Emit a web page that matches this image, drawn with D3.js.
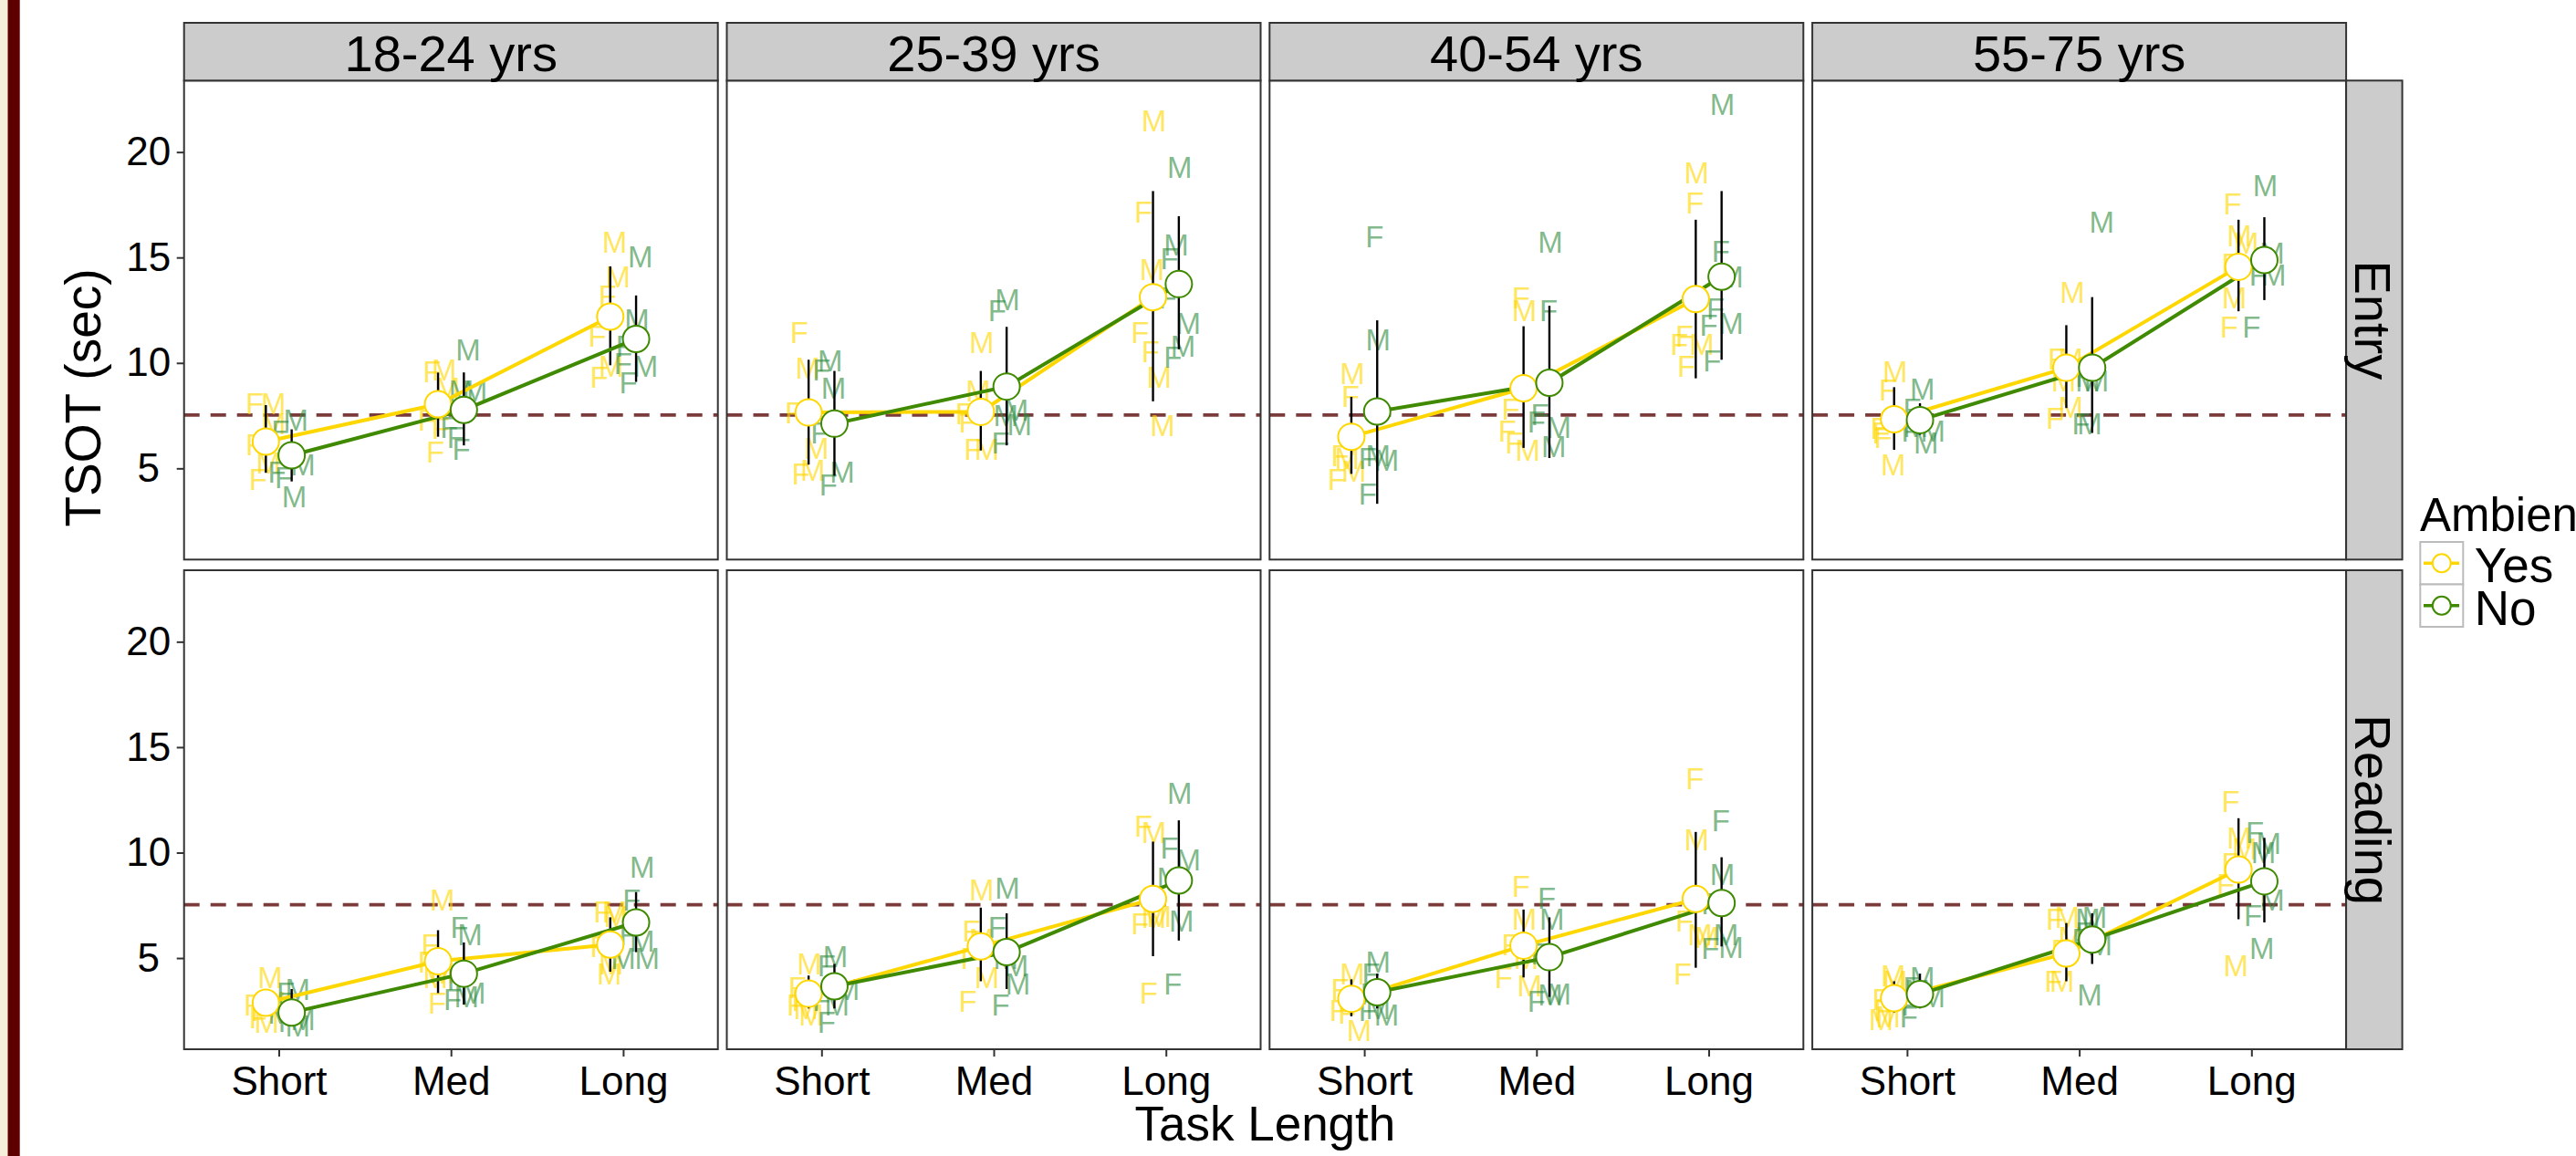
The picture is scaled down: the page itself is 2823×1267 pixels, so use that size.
<!DOCTYPE html>
<html>
<head>
<meta charset="utf-8">
<title>TSOT by task length, age and ambient</title>
<script src="https://d3js.org/d3.v7.min.js"></script>
<style>
body { margin: 0; background: #fff; font-family: Arial, "Liberation Sans", sans-serif; }
svg { display: block; }
</style>
</head>
<body>
<div id="chart"></div>
<script>
var ages = ["18-24 yrs", "25-39 yrs", "40-54 yrs", "55-75 yrs"];
var tasks = ["Entry", "Reading"];
var lengths = ["Short", "Med", "Long"];
var ambient = ["Yes", "No"];
var yTicks = [5, 10, 15, 20];
var refLine = 7.53;

// group means, one row per age group: [Short, Med, Long]
var entryYesMean = [[6.27, 8.04, 12.2], [7.65, 7.68, 13.12], [6.5, 8.8, 13.03], [7.33, 9.77, 14.56]];
var entryYesLo   = [[4.79, 6.5, 9.89], [5.18, 5.85, 8.18], [4.74, 5.97, 9.27], [5.88, 7.86, 12.45]];
var entryYesHi   = [[8.0, 9.54, 14.58], [10.15, 9.62, 18.15], [8.39, 11.74, 16.79], [8.85, 11.79, 16.79]];
var entryNoMean  = [[5.62, 7.77, 11.14], [7.12, 8.88, 13.74], [7.7, 9.06, 14.09], [7.29, 9.77, 14.88]];
var entryNoLo    = [[4.38, 6.09, 9.1], [4.65, 6.09, 10.65], [3.32, 5.49, 10.15], [6.59, 6.68, 12.98]];
var entryNoHi    = [[6.85, 9.55, 13.2], [9.62, 11.71, 16.96], [12.02, 12.71, 18.15], [8.09, 13.12, 16.91]];

var readingYesMean = [[2.88, 4.85, 5.64], [3.31, 5.55, 7.8], [3.07, 5.59, 7.8], [3.1, 5.22, 9.2]];
var readingYesLo   = [[2.33, 3.34, 4.35], [2.61, 3.9, 5.09], [2.24, 4.08, 4.54], [2.42, 3.9, 6.84]];
var readingYesHi   = [[3.53, 6.32, 6.93], [4.17, 7.39, 10.52], [3.99, 7.3, 10.98], [3.9, 6.66, 11.63]];
var readingNoMean  = [[2.42, 4.26, 6.69], [3.66, 5.28, 8.68], [3.38, 5.04, 7.61], [3.29, 5.88, 8.64]];
var readingNoLo    = [[1.87, 2.79, 5.28], [2.61, 3.53, 5.83], [2.61, 3.16, 5.55], [2.61, 4.72, 6.69]];
var readingNoHi    = [[3.53, 5.74, 8.13], [4.72, 7.12, 11.53], [4.26, 6.93, 9.78], [4.26, 7.12, 10.7]];

// individual participants: [sex, jitter (x units), TSOT], grouped [Short, Med, Long]
var entryLetters = [
  { Yes: [
      [["F",-0.14,8.09],["M",-0.03,8.09],["M",-0.03,7.12],["F",-0.14,6.15],["M",-0.06,5.27],["F",-0.12,4.47]],
      [["F",-0.11,9.6],["M",-0.04,9.7],["M",-0.02,8.8],["F",-0.14,7.3],["F",-0.06,6.9],["F",-0.09,5.8]],
      [["M",-0.05,15.76],["M",-0.03,14.09],["F",-0.09,13.2],["F",-0.15,11.27],["M",-0.07,9.85],["F",-0.14,9.32]]],
    No: [
      [["M",0.10,7.3],["F",0.01,6.77],["M",0.14,5.18],["F",0.03,4.56],["M",0.09,3.68],["F",-0.01,4.82]],
      [["M",0.10,10.65],["M",0.06,8.7],["M",0.14,8.7],["F",-0.01,6.94],["F",0.03,6.5],["F",0.06,5.9]],
      [["M",0.10,15.06],["M",0.08,12.06],["F",0.01,10.82],["M",0.13,9.85],["F",0.03,9.06],["F",0.0,10.0]]] },
  { Yes: [
      [["F",-0.13,11.44],["M",-0.08,9.77],["F",-0.16,7.65],["M",-0.03,5.97],["F",-0.12,4.74],["M",-0.05,4.91]],
      [["M",-0.07,11.0],["M",-0.09,8.7],["F",-0.15,7.2],["F",-0.12,5.9],["M",-0.04,5.9],["F",-0.17,7.6]],
      [["M",-0.07,21.5],["F",-0.13,17.18],["M",-0.08,14.44],["F",-0.15,11.44],["F",-0.09,10.56],["M",-0.04,9.32],["M",-0.02,7.03]]],
    No: [
      [["M",0.05,10.1],["F",0.0,9.7],["M",0.07,8.8],["F",-0.01,6.7],["M",0.12,4.82],["F",0.04,4.21]],
      [["M",0.08,13.0],["F",0.02,12.5],["M",0.13,7.8],["M",0.15,7.1],["F",0.04,6.2],["M",0.07,7.5]],
      [["M",0.08,19.29],["M",0.06,15.59],["F",0.02,14.97],["F",0.01,13.1],["M",0.13,11.88],["M",0.10,10.82],["F",0.04,10.3]]] },
  { Yes: [
      [["M",-0.07,9.5],["F",-0.08,8.44],["F",-0.14,5.6],["M",-0.06,4.9],["F",-0.16,4.47],["M",-0.10,5.5]],
      [["F",-0.09,13.12],["M",-0.07,12.5],["F",-0.15,7.82],["F",-0.17,6.77],["F",-0.13,6.24],["M",-0.05,5.88]],
      [["M",-0.07,19.03],["F",-0.08,17.62],["F",-0.14,11.27],["F",-0.17,10.91],["M",-0.04,10.91],["F",-0.13,9.85]]],
    No: [
      [["F",0.06,16.0],["M",0.08,11.1],["F",0.02,5.5],["M",0.13,5.4],["M",0.08,5.6],["F",0.02,3.8]],
      [["M",0.08,15.76],["F",0.07,12.5],["F",0.02,7.56],["M",0.13,6.94],["M",0.10,6.06],["F",0.0,7.2]],
      [["M",0.08,22.29],["F",0.07,15.32],["M",0.13,14.09],["F",0.04,12.59],["F",0.0,11.8],["M",0.13,11.88],["F",0.02,10.12]]] },
  { Yes: [
      [["M",-0.07,9.59],["F",-0.11,8.71],["F",-0.15,6.68],["M",-0.08,5.18],["F",-0.16,6.9],["F",-0.14,6.5]],
      [["M",-0.04,13.38],["F",-0.13,10.2],["M",-0.05,10.2],["M",-0.09,9.15],["M",-0.05,7.91],["F",-0.14,7.38]],
      [["F",-0.11,17.57],["M",-0.07,16.03],["M",-0.03,15.68],["F",-0.12,14.7],["M",-0.10,13.12],["F",-0.13,11.71]]],
    No: [
      [["M",0.09,8.79],["F",0.03,7.82],["F",0.02,6.77],["M",0.15,6.77],["M",0.11,6.24],["M",0.05,7.0]],
      [["M",0.13,16.68],["M",0.10,9.15],["M",0.05,9.15],["F",0.01,7.12],["M",0.06,7.12],["F",0.03,9.4]],
      [["M",0.08,18.41],["M",0.12,15.24],["M",0.13,14.2],["F",0.04,14.18],["F",0.0,11.71],["F",0.07,15.0]]] }
];

var readingLetters = [
  { Yes: [
      [["M",-0.05,4.08],["F",-0.15,2.79],["F",-0.11,2.51],["M",-0.07,1.96],["M",-0.03,2.9],["F",-0.12,2.2]],
      [["M",-0.05,7.76],["F",-0.12,5.64],["F",-0.14,4.82],["M",-0.09,4.08],["F",-0.08,2.88],["M",-0.05,4.3]],
      [["M",-0.05,7.21],["F",-0.12,7.21],["M",-0.07,4.72],["M",-0.08,4.26],["F",-0.14,5.55],["M",-0.04,7.0]]],
    No: [
      [["M",0.11,3.53],["F",0.04,3.34],["M",0.01,2.42],["M",0.11,1.78],["M",0.14,2.1],["F",0.05,2.0]],
      [["F",0.05,6.47],["M",0.11,6.1],["M",0.13,3.34],["F",0.01,3.07],["M",0.09,3.2],["F",0.03,4.0]],
      [["M",0.11,9.32],["F",0.05,7.76],["F",0.03,6.1],["M",0.11,5.83],["M",0.14,5.0],["M",0.0,5.0]]] },
  { Yes: [
      [["M",-0.07,4.72],["F",-0.14,3.62],["F",-0.15,2.79],["M",-0.06,2.33],["M",-0.09,2.6],["F",-0.12,3.0]],
      [["M",-0.07,8.22],["F",-0.13,6.29],["F",-0.15,2.98],["M",-0.04,4.08],["M",-0.07,5.9],["F",-0.14,5.0]],
      [["F",-0.13,11.26],["M",-0.07,10.98],["M",-0.07,6.93],["F",-0.15,6.66],["F",-0.10,3.34],["M",-0.04,7.0]]],
    No: [
      [["M",0.08,5.09],["F",0.03,4.63],["M",0.15,3.53],["M",0.09,2.79],["F",0.03,1.96],["F",0.0,3.0]],
      [["M",0.08,8.31],["F",0.02,6.47],["M",0.13,4.63],["M",0.14,3.8],["F",0.04,2.79],["M",0.07,5.0]],
      [["M",0.08,12.82],["F",0.02,10.24],["M",0.13,9.69],["M",0.09,6.75],["F",0.04,3.8],["M",0.02,8.8]]] },
  { Yes: [
      [["M",-0.07,4.26],["F",-0.14,3.53],["F",-0.15,2.51],["M",-0.03,1.6],["F",-0.10,2.4],["M",-0.08,3.0]],
      [["F",-0.09,8.4],["M",-0.07,6.84],["F",-0.15,5.64],["F",-0.19,4.08],["M",-0.04,3.71],["M",-0.06,5.0]],
      [["F",-0.08,13.5],["M",-0.07,10.61],["F",-0.14,6.75],["M",-0.05,6.1],["F",-0.15,4.26],["M",-0.01,6.0]]],
    No: [
      [["M",0.08,4.82],["F",0.04,4.26],["F",0.02,2.51],["M",0.13,2.33],["M",0.08,2.6],["F",0.03,3.3]],
      [["F",0.06,7.85],["M",0.09,6.84],["M",0.08,3.25],["F",0.0,2.97],["M",0.13,3.3],["F",0.02,5.2]],
      [["F",0.07,11.53],["M",0.08,8.96],["F",0.01,7.58],["M",0.10,6.1],["F",0.01,5.46],["M",0.13,5.5]]] },
  { Yes: [
      [["M",-0.08,4.17],["F",-0.15,3.07],["M",-0.11,2.24],["F",-0.14,2.51],["M",-0.15,2.1],["M",-0.07,3.9]],
      [["F",-0.14,6.84],["M",-0.07,6.93],["F",-0.15,3.9],["M",-0.10,3.9],["M",-0.05,6.0],["F",-0.11,5.4]],
      [["F",-0.12,12.45],["M",-0.07,10.7],["F",-0.12,9.5],["F",-0.15,8.5],["M",-0.09,4.63],["M",-0.04,10.2]]],
    No: [
      [["M",0.09,4.08],["F",0.03,3.62],["M",0.15,3.16],["F",0.01,2.24],["M",0.06,3.5],["F",0.02,2.8]],
      [["M",0.09,6.93],["M",0.05,6.84],["F",0.01,5.92],["M",0.12,5.64],["M",0.06,3.25],["F",0.03,6.2]],
      [["F",0.02,10.98],["M",0.10,10.43],["M",0.12,7.76],["F",0.01,7.02],["M",0.06,5.46],["M",0.07,10.0]]] }
];

// tables built from the arrays above
var summary = {
  Entry:   { Yes: [entryYesMean, entryYesLo, entryYesHi], No: [entryNoMean, entryNoLo, entryNoHi] },
  Reading: { Yes: [readingYesMean, readingYesLo, readingYesHi], No: [readingNoMean, readingNoLo, readingNoHi] }
};
var letters = { Entry: entryLetters, Reading: readingLetters };

// layout
var W = 2823, H = 1267;
var left = 201.7, panelW = 585, gapX = 9.8;
var stripTop = 25, stripH = 63.3;
var rowTop = [88.3, 625], panelH = 525;
var rStripW = 61.5;

var x = d3.scalePoint().domain(lengths).range([0, panelW]).padding(0.55);
var y = d3.scaleLinear().domain([0.675, 23.39]).range([panelH, 0]);
var colour = d3.scaleOrdinal().domain(ambient).range(["#FFD700", "#3F8A00"]);
var letterFill = d3.scaleOrdinal().domain(ambient).range(["#FFD700", "#2E8B3E"]);
var letterAlpha = d3.scaleOrdinal().domain(ambient).range([0.64, 0.6]);
var dodge = { Yes: -0.075, No: 0.075 };

function xpos(li, dx) { return x(lengths[li]) + dx * x.step(); }

var svg = d3.select("#chart").append("svg")
  .attr("width", W).attr("height", H);

svg.append("rect").attr("width", W).attr("height", H).attr("fill", "#fff");
// slide edge decoration
svg.append("rect").attr("x", 0).attr("y", 0).attr("width", 8.5).attr("height", H).attr("fill", "#F6EFD9");
svg.append("rect").attr("x", 8.5).attr("y", 0).attr("width", 13.2).attr("height", H).attr("fill", "#5E0000");

tasks.forEach(function(task, ti) {
  ages.forEach(function(age, ai) {
    var px = left + ai * (panelW + gapX), py = rowTop[ti];
    var g = svg.append("g").attr("transform", "translate(" + px + "," + py + ")");

    g.append("rect").attr("width", panelW).attr("height", panelH).attr("fill", "#fff");

    g.append("line")
      .attr("x1", 0).attr("x2", panelW)
      .attr("y1", y(refLine)).attr("y2", y(refLine))
      .attr("stroke", "#7C3B3B").attr("stroke-width", 3.8)
      .attr("stroke-dasharray", "17,12");

    // participant letters
    ambient.forEach(function(amb) {
      letters[task][ai][amb].forEach(function(group, li) {
        g.selectAll(null).data(group).enter().append("text")
          .attr("x", function(d) { return xpos(li, d[1]); })
          .attr("y", function(d) { return y(d[2]); })
          .attr("dy", "0.36em")
          .attr("text-anchor", "middle")
          .attr("font-size", 33)
          .attr("fill", letterFill(amb))
          .attr("fill-opacity", letterAlpha(amb))
          .text(function(d) { return d[0]; });
      });
    });

    ambient.forEach(function(amb) {
      var s = summary[task][amb];
      var pts = lengths.map(function(l, li) {
        return { li: li, m: s[0][ai][li], lo: s[1][ai][li], hi: s[2][ai][li] };
      });
      var line = d3.line()
        .x(function(d) { return xpos(d.li, dodge[amb]); })
        .y(function(d) { return y(d.m); });
      g.append("path").datum(pts)
        .attr("d", line)
        .attr("fill", "none")
        .attr("stroke", colour(amb))
        .attr("stroke-width", 4);
      g.selectAll(null).data(pts).enter().append("line")
        .attr("x1", function(d) { return xpos(d.li, dodge[amb]); })
        .attr("x2", function(d) { return xpos(d.li, dodge[amb]); })
        .attr("y1", function(d) { return y(d.lo); })
        .attr("y2", function(d) { return y(d.hi); })
        .attr("stroke", "#000").attr("stroke-width", 2.4);
    });
    ambient.forEach(function(amb) {
      var s = summary[task][amb];
      g.selectAll(null).data(s[0][ai]).enter().append("circle")
        .attr("cx", function(d, li) { return xpos(li, dodge[amb]); })
        .attr("cy", function(d) { return y(d); })
        .attr("r", 14.5)
        .attr("fill", "#fff")
        .attr("stroke", colour(amb))
        .attr("stroke-width", 2);
    });

    g.append("rect").attr("width", panelW).attr("height", panelH)
      .attr("fill", "none").attr("stroke", "#333").attr("stroke-width", 2);

    if (ai == 0) {
      var ya = g.append("g").call(d3.axisLeft(y).tickValues(yTicks).tickSize(8));
      ya.select(".domain").remove();
      ya.selectAll("line").attr("stroke", "#333").attr("stroke-width", 2);
      ya.selectAll("text").attr("x", -39).attr("text-anchor", "middle")
        .attr("font-size", 44).attr("font-family", "Arial, 'Liberation Sans', sans-serif").attr("fill", "#000");
    }
    if (ti == 1) {
      var xa = g.append("g").attr("transform", "translate(0," + panelH + ")")
        .call(d3.axisBottom(x).tickSize(8));
      xa.select(".domain").remove();
      xa.selectAll("line").attr("stroke", "#333").attr("stroke-width", 2);
      xa.selectAll("text").attr("y", 50).attr("dy", 0)
        .attr("font-size", 44).attr("font-family", "Arial, 'Liberation Sans', sans-serif").attr("fill", "#000");
    }
    if (ti == 0) {
      g.append("rect").attr("x", 0).attr("y", stripTop - py)
        .attr("width", panelW).attr("height", stripH)
        .attr("fill", "#CCCCCC").attr("stroke", "#333").attr("stroke-width", 2);
      g.append("text").attr("x", panelW / 2).attr("y", stripTop - py + 53.3)
        .attr("text-anchor", "middle").attr("font-size", 56).text(age);
    }
    if (ai == ages.length - 1) {
      g.append("rect").attr("x", panelW).attr("y", 0)
        .attr("width", rStripW).attr("height", panelH)
        .attr("fill", "#CCCCCC").attr("stroke", "#333").attr("stroke-width", 2);
      g.append("text")
        .attr("transform", "translate(" + (panelW + 10) + "," + (panelH / 2) + ") rotate(90)")
        .attr("text-anchor", "middle").attr("font-size", 56).text(task);
    }
  });
});

// axis titles
svg.append("text")
  .attr("transform", "translate(110,436) rotate(-90)")
  .attr("text-anchor", "middle").attr("font-size", 55).text("TSOT (sec)");
svg.append("text")
  .attr("x", left + (4 * panelW + 3 * gapX) / 2).attr("y", 1250)
  .attr("text-anchor", "middle").attr("font-size", 53).text("Task Length");

// legend
var lg = svg.append("g").attr("transform", "translate(2652,0)");
lg.append("text").attr("x", 0).attr("y", 581.7).attr("font-size", 51).text("Ambient");
ambient.forEach(function(amb, i) {
  var ky = 594 + i * 46.5;
  lg.append("rect").attr("x", 0.3).attr("y", ky).attr("width", 47).attr("height", 46.5)
    .attr("fill", "#fff").attr("stroke", "#BBBBBB").attr("stroke-width", 2);
  lg.append("line").attr("x1", 4).attr("x2", 43).attr("y1", ky + 23.25).attr("y2", ky + 23.25)
    .attr("stroke", colour(amb)).attr("stroke-width", 3.5);
  lg.append("circle").attr("cx", 23.8).attr("cy", ky + 23.25).attr("r", 10)
    .attr("fill", "#fff").attr("stroke", colour(amb)).attr("stroke-width", 2);
  lg.append("text").attr("x", 59.7).attr("y", ky + 44).attr("font-size", 53).text(amb);
});
</script>
</body>
</html>
